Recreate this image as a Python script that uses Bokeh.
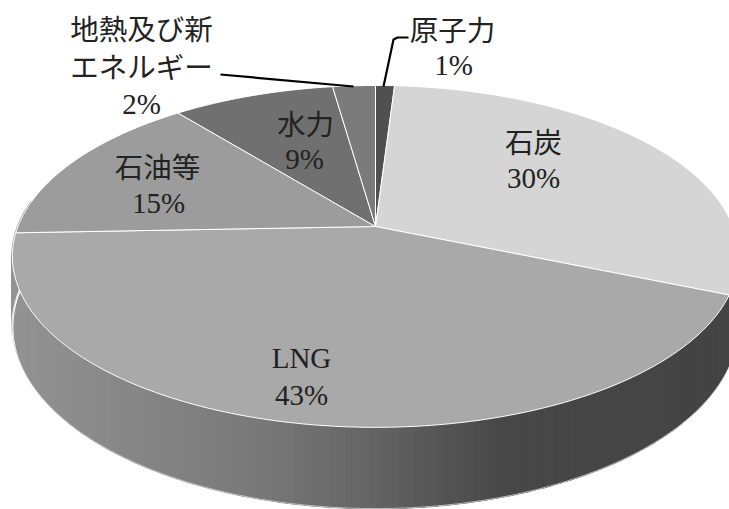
import numpy as np
from bokeh.plotting import figure
from bokeh.embed import file_html
from bokeh.resources import INLINE
from bokeh.core.properties import value

# Data, clockwise from the top of the pie
categories = ["原子力", "石炭", "LNG", "石油等", "水力", "地熱及び新エネルギー"]
shares = [1.0, 30.3, 43.1, 14.8, 8.55, 2.25]
share_labels = ["1%", "30%", "43%", "15%", "9%", "2%"]
slice_colors = ["#505050", "#d5d5d5", "#a9a9a9", "#9c9c9c", "#707070", "#7b7b7b"]

# Projection of the tilted disc, in pixels of the picture
CX, CY, RX, RY, K, DEPTH = 375.0, 226.0, 357.5, 165.7, 0.175, 67.0
CJK = value("Noto Sans CJK JP")
SERIF = value("Liberation Serif")


def rim(theta, drop=0.0):
    s = 1.0 / (1.0 + K * np.cos(theta))
    return CX + RX * np.sin(theta) * s, CY - RY * np.cos(theta) * s + drop * s


p = figure(width=729, height=509, x_range=(0, 729), y_range=(509, 0),
           output_backend="svg", toolbar_location=None, min_border=0,
           outline_line_color=None, background_fill_color="white",
           border_fill_color="white")
p.axis.visible = False
p.grid.visible = False

# Side wall, drawn as narrow strips shaded from left to right
edges = np.linspace(np.radians(94), np.radians(279), 186)
for a, b in zip(edges[:-1], edges[1:]):
    xa, ya = rim(a)
    xb, yb = rim(b)
    xc, yc = rim(b, DEPTH)
    xd, yd = rim(a, DEPTH)
    g = int(np.interp((xa + xb) / 2, [15, 120, 250, 365, 500, 729],
                      [0x93, 0x88, 0x7a, 0x66, 0x48, 0x44]))
    col = f"#{g:02x}{g:02x}{g:02x}"
    p.patch([xa, xb, xc, xd], [ya, yb, yc, yd], fill_color=col, line_color=col, line_width=2.0)

# Thin white edge along the foot of the wall, covering the strips' ends
foot = np.linspace(np.radians(94), np.radians(279), 220)
fx, fy = rim(foot, DEPTH + 1.5)
p.line(fx, fy, line_color="white", line_width=2.0)
fx, fy = rim(foot, DEPTH)
p.line(fx, fy, line_color="#d8d8d8", line_width=0.8)

# Top face
cum = np.concatenate([[0], np.cumsum(shares)]) / np.sum(shares) * 2 * np.pi
for i, col in enumerate(slice_colors):
    t = np.linspace(cum[i], cum[i + 1], max(int(shares[i] * 4), 4))
    x, y = rim(t)
    p.patch(np.r_[CX, x], np.r_[CY, y], fill_color=col, line_color="white", line_width=1.0)

# Leader lines
p.line([220, 353], [74, 86], line_color="black", line_width=2.2)
p.line([408, 397, 393, 383], [37, 37, 39, 86], line_color="black", line_width=2.2)


# Labels
def label(x, y, s, font, size="28.5px"):
    p.text([x], [y], text=[s], text_font=font, text_font_size=size, text_align="center",
           text_baseline="middle", text_color="#222222")


label(141, 27, categories[5][:5], CJK)
label(141, 65, categories[5][5:], CJK)
label(141, 103, share_labels[5], SERIF, "29px")
label(452, 28, categories[0], CJK)
label(453, 64, share_labels[0], SERIF, "29px")
label(533, 140, categories[1], CJK)
label(533, 177, share_labels[1], SERIF, "29px")
label(305, 122, categories[4], CJK)
label(304, 158, share_labels[4], SERIF, "29px")
label(157, 165, categories[3], CJK)
label(158, 202, share_labels[3], SERIF, "29px")
label(301, 357, categories[2], SERIF, "29px")
label(301, 394, share_labels[2], SERIF, "29px")

open("out.html", "w").write(file_html(p, INLINE))
